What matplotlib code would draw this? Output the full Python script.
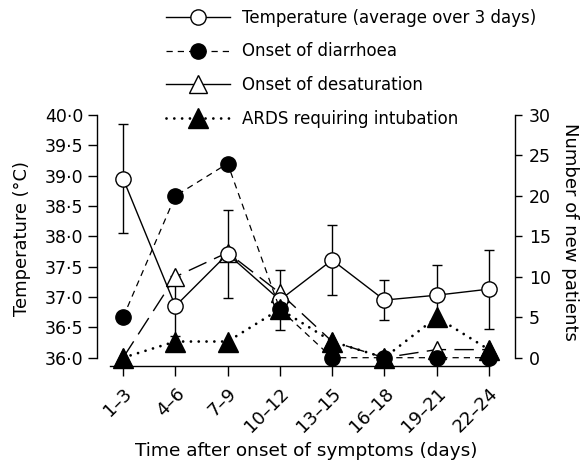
import matplotlib
matplotlib.use("Agg")
import matplotlib.pyplot as plt
from matplotlib.ticker import FuncFormatter, MultipleLocator
from matplotlib.lines import Line2D

# ---- data ----
periods = ["1–3", "4–6", "7–9", "10–12", "13–15", "16–18", "19–21", "22–24"]
temp_mean = [38.95, 36.85, 37.71, 36.95, 37.61, 36.95, 37.03, 37.13]
temp_err = [0.90, 0.50, 0.73, 0.50, 0.58, 0.33, 0.49, 0.65]
diarrhoea = [5, 20, 24, 6, 0, 0, 0, 0]
desaturation = [0, 10, 13, 8, 2, 0, 1, 1]
ards = [0, 2, 2, 6, 2, 0, 5, 1]

labels = ["Temperature (average over 3 days)", "Onset of diarrhoea",
          "Onset of desaturation", "ARDS requiring intubation"]

plt.rcParams['font.family'] = ['DejaVu Sans']

W, H = 580, 465
fig = plt.figure(figsize=(W / 100, H / 100), dpi=100)
ax = fig.add_axes([97 / W, 1 - 357.7 / H, 418 / W, 242.7 / H])
ax2 = ax.twinx()

x = list(range(len(periods)))

ax.set_xlim(-0.5, 7.5)
ax.set_ylim(36, 40)
ax2.set_ylim(0, 30)

# temperature error bars (lowest)
ax.errorbar(x, temp_mean, yerr=temp_err, fmt='none', ecolor='black',
            elinewidth=1.0, capsize=3.5, capthick=1.0, zorder=1)

t2 = ax2.transData
# desaturation (long dashes, open triangles)
l_des, = ax.plot(x, desaturation, transform=t2, color='black', lw=1.0,
                 dashes=(14, 6), marker='^', ms=13, mfc='white', mec='black',
                 mew=1.0, clip_on=False, zorder=2)
# temperature
l_temp, = ax.plot(x, temp_mean, color='black', lw=1.0, marker='o', ms=11,
                  mfc='white', mec='black', mew=1.0, clip_on=False, zorder=3)
# diarrhoea
l_dia, = ax.plot(x, diarrhoea, transform=t2, color='black', lw=0.9,
                 dashes=(5, 4), marker='o', ms=11, mfc='black', mec='black',
                 clip_on=False, zorder=4)
# ARDS
l_ards, = ax.plot(x, ards, transform=t2, color='black', lw=2.0,
                  dashes=(0.01, 2.8), dash_capstyle='round', marker='^', ms=14,
                  mfc='black', mec='black', clip_on=False, zorder=5)

# axes styling
for s in ['top', 'right']:
    ax.spines[s].set_visible(False)
for s in ['top', 'left', 'bottom']:
    ax2.spines[s].set_visible(False)
ax.spines['bottom'].set_position(('outward', 6))
ax.spines['bottom'].set_bounds(-0.25, 7)
for sp in list(ax.spines.values()) + list(ax2.spines.values()):
    sp.set_linewidth(1.0)

ax.set_xticks(x)
ax.set_xticklabels(periods, rotation=45, ha='right', rotation_mode='anchor')
ax.yaxis.set_major_locator(MultipleLocator(0.5))
ax.yaxis.set_major_formatter(FuncFormatter(lambda v, p: f"{v:.1f}".replace('.', '·')))
ax2.yaxis.set_major_locator(MultipleLocator(5))

ax.tick_params(axis='y', direction='out', length=6.5, width=1.0, labelsize=12.5, pad=3.5)
ax.tick_params(axis='x', direction='out', length=7, width=1.0, labelsize=13, pad=6)
ax2.tick_params(axis='y', direction='out', length=5, width=1.0, labelsize=12.5, pad=5)

ax.set_xlabel("Time after onset of symptoms (days)", fontsize=13.3)
ax.xaxis.set_label_coords(0.5, -(442 - 357.7) / 242.7)
ax.set_ylabel("Temperature (°C)", fontsize=12.9)
ax.yaxis.set_label_coords(-(97 - 31) / 418, 0.49)
ax2.set_ylabel("Number of new patients", fontsize=13, rotation=-90, va='center')
ax2.yaxis.set_label_coords((570 - 97) / 418, 0.52)

# legend
h_des = Line2D([], [], color='black', lw=1.0, marker='^', ms=13, mfc='white', mec='black')
fig.legend([l_temp, l_dia, h_des, l_ards], labels, loc='upper left',
           bbox_to_anchor=(166 / W, 1 - 9 / H), frameon=False, fontsize=12,
           handlelength=3.85, handletextpad=0.7, labelspacing=0.93,
           borderpad=0, borderaxespad=0)

fig.savefig("out.png", dpi=100)
